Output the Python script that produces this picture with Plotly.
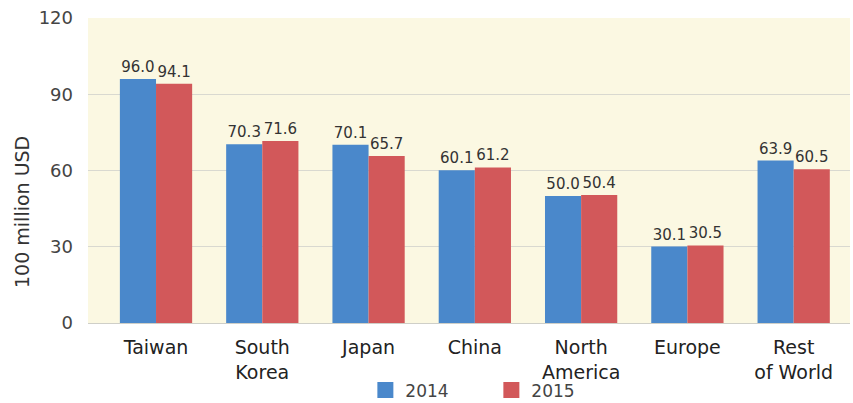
import plotly.graph_objects as go

regions = ["Taiwan", "South<br>Korea", "Japan", "China", "North<br>America", "Europe", "Rest<br>of World"]
sales_2014 = [96.0, 70.3, 70.1, 60.1, 50.0, 30.1, 63.9]
sales_2015 = [94.1, 71.6, 65.7, 61.2, 50.4, 30.5, 60.5]
years = ["2014", "2015"]
y_ticks = [0, 30, 60, 90, 120]

blue = "#4a88cb"
red = "#d2585a"
font = "DejaVu Sans"

fig = go.Figure()
for name, values, color in [(years[0], sales_2014, blue), (years[1], sales_2015, red)]:
    fig.add_trace(go.Bar(
        x=regions, y=values, name=name, legendgroup=name, showlegend=False,
        marker=dict(color=color, line=dict(width=0)),
        text=[f"{v:.1f}" for v in values], textposition="outside",
        textfont=dict(size=15, color="#333333", family=font), cliponaxis=False,
    ))

# larger square swatches for the legend
for name, color in [(years[0], blue), (years[1], red)]:
    fig.add_trace(go.Scatter(
        x=[regions[0]], y=[None], mode="markers", name=name, legendgroup=name,
        marker=dict(symbol="square", size=16, color=color),
    ))

fig.update_layout(
    width=853, height=403,
    margin=dict(l=88, r=3, t=18, b=80, autoexpand=False),
    paper_bgcolor="white",
    plot_bgcolor="#fbf8e2",
    barmode="group",
    bargap=0.32,
    bargroupgap=0,
    font=dict(family=font, color="#333333"),
    showlegend=True,
    legend=dict(
        orientation="h", x=0.364, xanchor="left", y=-0.162, yanchor="top",
        font=dict(size=17, color="#444444", family=font),
        bgcolor="rgba(0,0,0,0)", borderwidth=0,
        entrywidth=81, entrywidthmode="pixels", traceorder="normal",
        itemsizing="trace",
    ),
    xaxis=dict(
        range=[-0.64, 6.53],
        tickfont=dict(size=19, color="#222222", family=font),
        ticks="", showline=False, showgrid=False,
        ticklabelstandoff=11,
    ),
    yaxis=dict(
        range=[0, 120], tickvals=y_ticks,
        tickfont=dict(size=18, color="#444444", family=font),
        showgrid=True, gridcolor="#d9d9d0", gridwidth=1,
        zeroline=True, zerolinecolor="#cfcfc8", zerolinewidth=1,
        ticks="", ticklen=0, ticklabelstandoff=14,
    ),
    annotations=[dict(
        text="100 million USD", textangle=-90, showarrow=False,
        xref="paper", yref="paper", x=-0.0866, y=0.364,
        xanchor="center", yanchor="middle",
        font=dict(size=19, color="#333333", family=font),
    )],
)

fig.write_html("out.html")
